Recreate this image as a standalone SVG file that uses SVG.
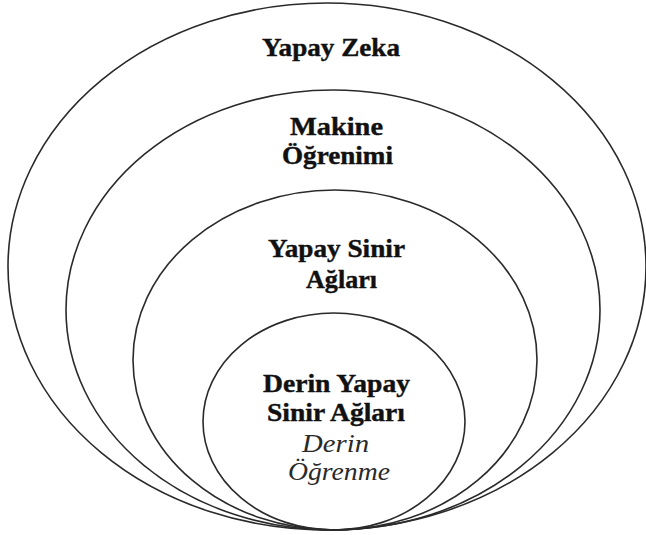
<svg xmlns="http://www.w3.org/2000/svg" width="646" height="535" viewBox="0 0 646 535">
<style>
.ring{fill:none;stroke:#2a2a2a;stroke-width:1.6}
.lb{font-family:"Liberation Serif","Times New Roman",serif;font-weight:bold;font-size:25px;fill:#111111;stroke:#111111;stroke-width:0.4}
.it{font-family:"Liberation Serif","Times New Roman",serif;font-style:italic;font-size:25px;fill:#2a2a2a}
</style>
<rect width="646" height="535" fill="#ffffff"/>
<g id="yapay-zeka">
<ellipse class="ring" cx="327" cy="266.5" rx="319" ry="263.5"/>
<text class="lb" x="262" y="56" textLength="138" lengthAdjust="spacingAndGlyphs">Yapay Zeka</text>
</g>
<g id="makine-ogrenimi">
<ellipse class="ring" cx="333" cy="310" rx="267" ry="220"/>
<text class="lb" x="290" y="135" textLength="93" lengthAdjust="spacingAndGlyphs">Makine</text>
<text class="lb" x="282" y="164" textLength="111" lengthAdjust="spacingAndGlyphs">Öğrenimi</text>
</g>
<g id="yapay-sinir-aglari">
<ellipse class="ring" cx="335" cy="360" rx="202" ry="170"/>
<text class="lb" x="268" y="257" textLength="137" lengthAdjust="spacingAndGlyphs">Yapay Sinir</text>
<text class="lb" x="306" y="288" textLength="71" lengthAdjust="spacingAndGlyphs">Ağları</text>
</g>
<g id="derin-yapay-sinir-aglari">
<ellipse class="ring" cx="334" cy="421.5" rx="131" ry="108.5"/>
<text class="lb" x="263" y="392" textLength="147" lengthAdjust="spacingAndGlyphs">Derin Yapay</text>
<text class="lb" x="267" y="421" textLength="138" lengthAdjust="spacingAndGlyphs">Sinir Ağları</text>
<text class="it" x="302" y="452" textLength="67" lengthAdjust="spacingAndGlyphs">Derin</text>
<text class="it" x="288" y="480" textLength="102" lengthAdjust="spacingAndGlyphs">Öğrenme</text>
</g>
<g id="connectors"></g>
</svg>
